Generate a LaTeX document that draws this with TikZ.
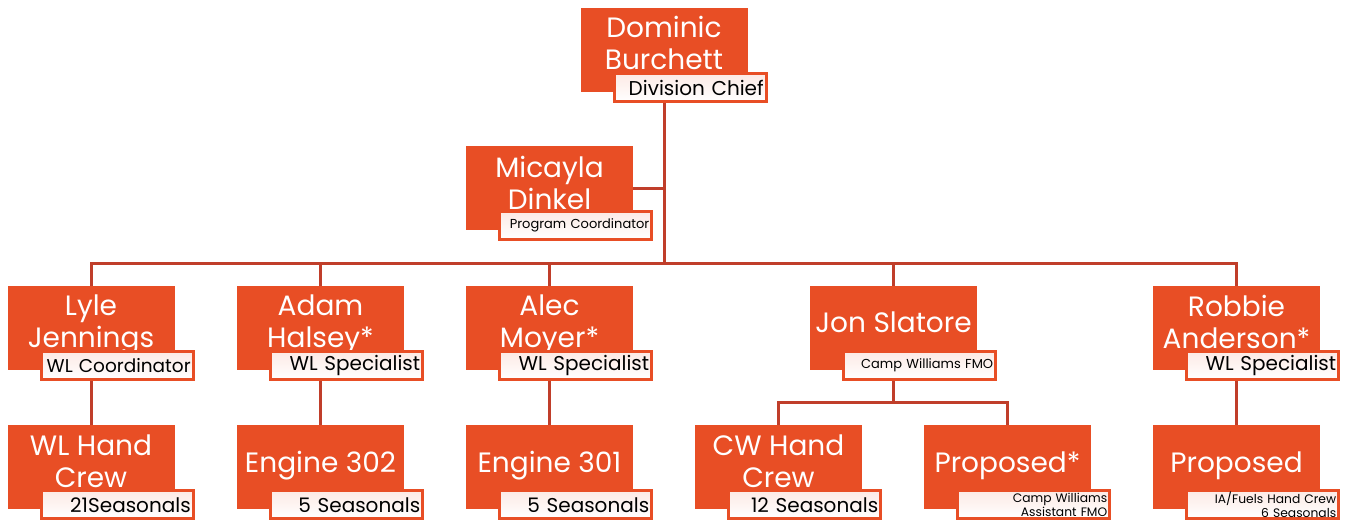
\documentclass[tikz,border=0pt]{standalone}
\usepackage{fontspec}
\setmainfont{Poppins}
\usetikzlibrary{positioning,backgrounds}
\hyphenpenalty=10000
\definecolor{boxorange}{RGB}{232,78,37}
\definecolor{linered}{RGB}{192,62,42}
\tikzstyle{box} = [rectangle, fill=boxorange, minimum width=167pt, minimum height=84pt, inner sep=0pt]
\tikzstyle{person} = [text=white, align=center, inner sep=0pt, font=\fontsize{28}{32}\selectfont]
\tikzstyle{tag} = [rectangle, draw=boxorange, line width=3pt, top color=boxorange!12, bottom color=white, minimum width=152pt, minimum height=28pt, text width=147pt, align=right, inner xsep=2.5pt, inner ysep=0pt, font=\fontsize{20}{22}\selectfont]
\tikzstyle{smalltag} = [tag, font=\fontsize{13}{15}\selectfont]
\tikzstyle{tinytag} = [tag, font=\fontsize{12.3}{14}\selectfont]
\tikzstyle{line} = [draw=linered, line width=3pt]

\begin{document}
\begin{tikzpicture}[x=1pt, y=-1pt, node distance=139pt]
      \useasboundingbox (0,0) rectangle (1349,523);
      % place boxes
      \node [box] (dom) at (664,50) {};
      \node [box] (mic) at (549.5,188) {};
      \node [box] (lyle) at (91,328) {};
      \node [box] (adam) at (320.5,328) {};
      \node [box] (alec) at (549.5,328) {};
      \node [box] (jon) at (893.5,328) {};
      \node [box] (robbie) at (1236.5,328) {};
      \node [box, below of=lyle] (wlcrew) {};
      \node [box, below of=adam] (eng302) {};
      \node [box, below of=alec] (eng301) {};
      \node [box] (cwcrew) at (778.5,467) {};
      \node [box] (propcw) at (1007.5,467) {};
      \node [box, below of=robbie] (propia) {};

      % names
      \node [person] (domn) at ([yshift=7pt]dom.center) {Dominic\\Burchett};
      \node [person] (micn) at ([yshift=5pt]mic.center) {Micayla\\Dinkel};
      \node [person] (lylen) at ([yshift=3pt]lyle.center) {Lyle\\Jennings};
      \node [person] (adamn) at ([yshift=3pt]adam.center) {Adam\\Halsey*};
      \node [person] (alecn) at ([yshift=3pt]alec.center) {Alec\\Moyer*};
      \node [person] (jonn) at ([yshift=6pt]jon.center) {Jon Slatore};
      \node [person] (robbien) at ([yshift=6pt]robbie.center) {Robbie\\Anderson*};
      \node [person] (wlcrewn) at ([yshift=6pt]wlcrew.center) {WL Hand\\Crew};
      \node [person] (eng302n) at ([yshift=1pt]eng302.center) {Engine 302};
      \node [person] (eng301n) at ([yshift=1pt]eng301.center) {Engine 301};
      \node [person] (cwcrewn) at ([yshift=6pt]cwcrew.center) {CW Hand\\Crew};
      \node [person] (propcwn) at ([yshift=1pt]propcw.center) {Proposed*};
      \node [person] (propian) at ([yshift=1pt]propia.center) {Proposed};

      % titles
      \node [tag, anchor=south east] (domt) at ([xshift=20pt,yshift=-11pt]dom.south east) {Division Chief};
      \node [smalltag, anchor=south east] (mict) at ([xshift=20pt,yshift=-11pt]mic.south east) {Program Coordinator};
      \node [tag, anchor=south east, font=\fontsize{18.5}{22}\selectfont] (lylet) at ([xshift=20pt,yshift=-11pt]lyle.south east) {WL Coordinator};
      \node [tag, anchor=south east] (adamt) at ([xshift=20pt,yshift=-11pt]adam.south east) {WL Specialist};
      \node [tag, anchor=south east] (alect) at ([xshift=20pt,yshift=-11pt]alec.south east) {WL Specialist};
      \node [smalltag, anchor=south east] (jont) at ([xshift=20pt,yshift=-11pt]jon.south east) {Camp Williams FMO};
      \node [tag, anchor=south east] (robbiet) at ([xshift=20pt,yshift=-11pt]robbie.south east) {WL Specialist};
      \node [tag, anchor=south east] (wlcrewt) at ([xshift=20pt,yshift=-11pt]wlcrew.south east) {21Seasonals};
      \node [tag, anchor=south east] (eng302t) at ([xshift=20pt,yshift=-11pt]eng302.south east) {5 Seasonals};
      \node [tag, anchor=south east] (eng301t) at ([xshift=20pt,yshift=-11pt]eng301.south east) {5 Seasonals};
      \node [tag, anchor=south east] (cwcrewt) at ([xshift=20pt,yshift=-11pt]cwcrew.south east) {12 Seasonals};
      \node [tinytag, anchor=south east] (propcwt) at ([xshift=20pt,yshift=-11pt]propcw.south east) {Camp Williams\\Assistant FMO};
      \node [tinytag, anchor=south east] (propiat) at ([xshift=20pt,yshift=-11pt]propia.south east) {IA/Fuels Hand Crew\\6 Seasonals};

      % draw edges
      \begin{scope}[on background layer]
      \coordinate (bus) at (664,263);
      \coordinate (jbus) at (893.5,402);
      \path [line] (dom.south) -- (bus);
      \path [line] (mic.east) -- (mic.east -| dom.south);
      \path [line] (bus) -| (lyle.north);
      \path [line] (bus) -| (adam.north);
      \path [line] (bus) -| (alec.north);
      \path [line] (bus) -| (jon.north);
      \path [line] (bus) -| (robbie.north);
      \path [line] (lyle.south) -- (wlcrew.north);
      \path [line] (adam.south) -- (eng302.north);
      \path [line] (alec.south) -- (eng301.north);
      \path [line] (jon.south) -- (jbus);
      \path [line] (jbus) -| (cwcrew.north);
      \path [line] (jbus) -| (propcw.north);
      \path [line] (robbie.south) -- (propia.north);
      \end{scope}
\end{tikzpicture}
\end{document}
